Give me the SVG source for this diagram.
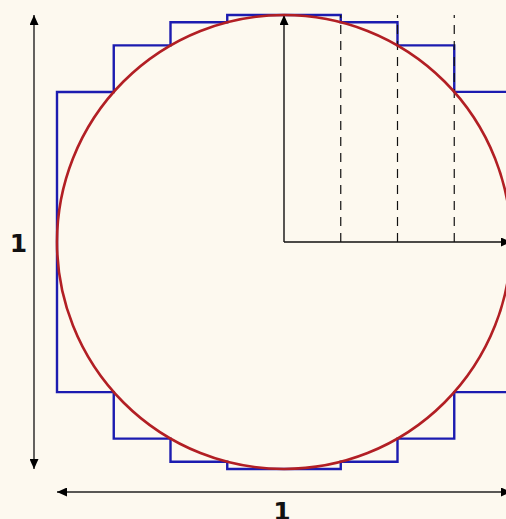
<svg xmlns="http://www.w3.org/2000/svg" width="506" height="519" viewBox="0 0 506 519">
<style>
.ax{stroke:#111;stroke-width:1.4;fill:none}
.dim{stroke:#222;stroke-width:1.4;fill:none}
.dash{stroke:#111;stroke-width:1.2;stroke-dasharray:9,7;fill:none}
.stair{stroke:#1c1cb0;stroke-width:2.4;fill:none}
.circ{stroke:#b21f24;stroke-width:2.6;fill:none}
.lbl{font-family:"DejaVu Sans",sans-serif;font-weight:bold;font-size:25px;fill:#111;text-anchor:middle}
</style>
<defs>
<marker id="ah" viewBox="0 0 10 9" refX="10" refY="4.5" markerWidth="10" markerHeight="9" markerUnits="userSpaceOnUse" orient="auto-start-reverse">
<path d="M0,0 L10,4.5 L0,9 Z" fill="#000"/>
</marker>
</defs>
<rect width="506" height="519" fill="#fdf9ef"/>
<g id="staircase">
<path class="stair" d="M57,92 H113.75 V45.4 H170.5 V22.2 H227.25 V15 H340.75 V22.2 H397.5 V45.4 H454.25 V91.9 H511 V392.1 H454.25 V438.6 H397.5 V461.8 H340.75 V469 H227.25 V461.8 H170.5 V438.6 H113.75 V392.1 H57 Z"/>
</g>
<g id="connectors">
<line class="dash" x1="340.75" y1="242" x2="340.75" y2="15"/>
<line class="dash" x1="397.5" y1="242" x2="397.5" y2="15"/>
<line class="dash" x1="454.25" y1="242" x2="454.25" y2="15"/>
<line class="ax" x1="284" y1="242" x2="284" y2="15" marker-end="url(#ah)"/>
<line class="ax" x1="284" y1="242" x2="511" y2="242" marker-end="url(#ah)"/>
<line class="dim" x1="34" y1="15" x2="34" y2="469" marker-start="url(#ah)" marker-end="url(#ah)"/>
<line class="dim" x1="57" y1="492" x2="511" y2="492" marker-start="url(#ah)" marker-end="url(#ah)"/>
</g>
<g id="circle">
<circle class="circ" cx="284" cy="242" r="227"/>
</g>
<g id="labels">
<text class="lbl" x="18.5" y="252">1</text>
<text class="lbl" x="282" y="520">1</text>
</g>
</svg>
